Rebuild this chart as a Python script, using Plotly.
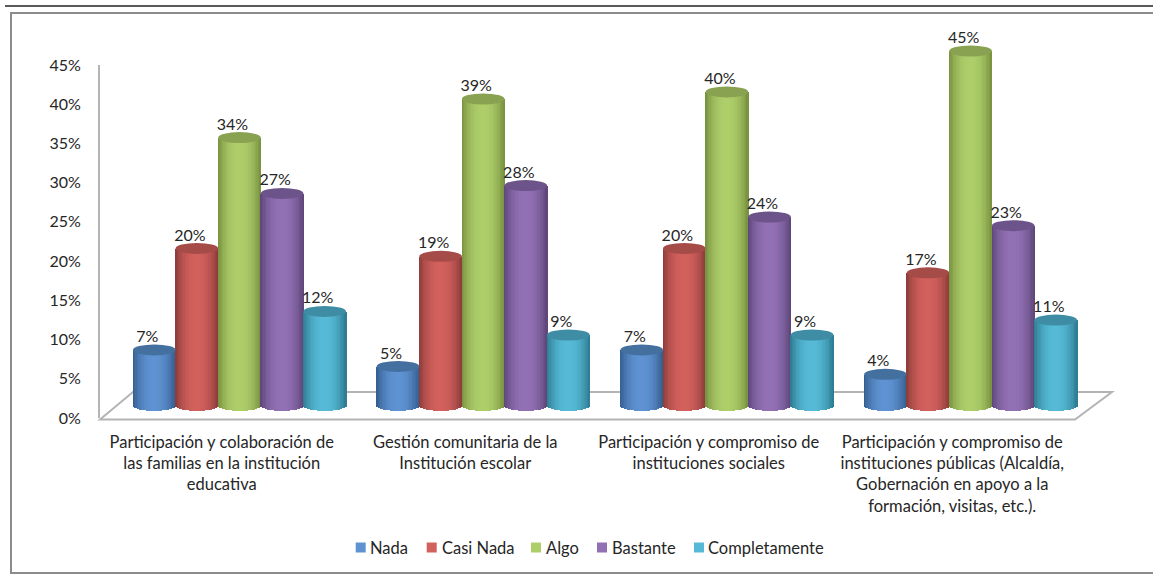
import math
import plotly.graph_objects as go

categories = [
    "Participación y colaboración de<br>las familias en la institución<br>educativa",
    "Gestión comunitaria de la<br>Institución escolar",
    "Participación y compromiso de<br>instituciones sociales",
    "Participación y compromiso de<br>instituciones públicas (Alcaldía,<br>Gobernación en apoyo a la<br>formación, visitas, etc.).",
]
series_names = ["Nada", "Casi Nada", "Algo", "Bastante", "Completamente"]
nada = [7.0, 4.9, 7.0, 3.9]
casi_nada = [19.9, 18.9, 19.9, 16.8]
algo = [34.0, 38.9, 39.8, 45.0]
bastante = [26.9, 27.9, 23.9, 22.8]
completamente = [11.9, 8.9, 8.9, 10.8]
labels = [
    ["7%", "5%", "7%", "4%"],
    ["20%", "19%", "20%", "17%"],
    ["34%", "39%", "40%", "45%"],
    ["27%", "28%", "24%", "23%"],
    ["12%", "9%", "9%", "11%"],
]
y_ticks = [0, 5, 10, 15, 20, 25, 30, 35, 40, 45]
values = [nada, casi_nada, algo, bastante, completamente]

W, H = 1153, 574
FONT = "Lato, Carlito, Calibri, sans-serif"
TEXT = "#262626"
center_col = ["#5E92D2", "#D2605C", "#AECE6A", "#9270B4", "#56BAD6"]
edge_col = ["#335C8C", "#8A3B39", "#76903E", "#5C4579", "#2D7A90"]
cap_col = ["#44709F", "#A54B48", "#89A251", "#6C5389", "#3F8DA4"]
legend_swatch_px = [355.7, 426.7, 531, 597, 694]
legend_text_px = [370, 441.7, 545.7, 611.7, 708]


def hex2rgb(h):
    return [int(h[i:i + 2], 16) for i in (1, 3, 5)]


def mix(a, b, t):
    ca, cb = hex2rgb(a), hex2rgb(b)
    return "rgb(%d,%d,%d)" % tuple(round(p + (q - p) * t) for p, q in zip(ca, cb))


def px_dom_x(a, b):
    return [a / W, b / W]


def px_dom_y(top, bottom):
    return [1 - bottom / H, 1 - top / H]


fig = go.Figure()

# main axes carry the ticks and category labels
fig.add_trace(go.Scatter(x=[0, 1, 2, 3], y=[None] * 4, xaxis="x", yaxis="y",
                         mode="markers", showlegend=False, hoverinfo="skip"))

BAR_W = 42.6 / 243.7
N_STRIP = 31
CAP = 0.7
LABEL_DX = -7 / 243.7
shapes = []
# floor, frame and rule first so they lie underneath
GRAY = "#B4B4B4"
shapes.append(dict(type="rect", xref="paper", yref="paper", layer="below",
                   x0=11 / W, x1=1170 / W, y0=1 - 573 / H, y1=1 - 13 / H,
                   line=dict(color="#8C8C8C", width=2), fillcolor="white"))
shapes.append(dict(type="path", xref="paper", yref="paper", layer="below",
                   path="M %f,%f L %f,%f L %f,%f L %f,%f Z" % (
                       100 / W, 1 - 419.5 / H, 133 / W, 1 - 392 / H,
                       1112 / W, 1 - 392 / H, 1075 / W, 1 - 419.5 / H),
                   line=dict(color=GRAY, width=2), fillcolor="white"))
shapes.append(dict(type="line", xref="paper", yref="paper", layer="below",
                   x0=5 / W, x1=1.01, y0=1 - 6 / H, y1=1 - 6 / H,
                   line=dict(color="#222222", width=1.5)))

for s, vals in enumerate(values):
    xs, ys, bases, widths, cols = [], [], [], [], []
    for g, v in enumerate(vals):
        cx = g + (s - 2) * BAR_W
        for k in range(N_STRIP):
            u = -1 + (2 * k + 1) / N_STRIP
            e = math.sqrt(max(0, 1 - u * u))
            xs.append(cx + u * BAR_W / 2)
            bases.append(-CAP * e)
            ys.append(v + CAP * e)
            widths.append(BAR_W / N_STRIP * 1.35)
            cols.append(mix(center_col[s], edge_col[s], abs(u) ** 2.2))
    fig.add_trace(go.Bar(x=xs, y=ys, base=bases, width=widths, xaxis="x2", yaxis="y2",
                         marker=dict(color=cols, line=dict(width=0)),
                         showlegend=False, hoverinfo="skip"))
    for g, v in enumerate(vals):
        cx = g + (s - 2) * BAR_W
        shapes.append(dict(type="circle", xref="x2", yref="y2",
                           x0=cx - BAR_W / 2, x1=cx + BAR_W / 2, y0=v - CAP, y1=v + CAP,
                           fillcolor=cap_col[s], line=dict(width=0), layer="above"))

for s, vals in enumerate(values):
    fig.add_trace(go.Scatter(
        x=[g + (s - 2) * BAR_W + LABEL_DX for g in range(4)], y=[v + CAP - 0.2 for v in vals],
        text=labels[s], mode="text", textposition="top center", xaxis="x2", yaxis="y2",
        textfont=dict(family=FONT, size=16, color=TEXT), showlegend=False, hoverinfo="skip"))

# legend row
annotations = []
for s, name in enumerate(series_names):
    shapes.append(dict(type="rect", xref="paper", yref="paper", layer="above",
                       x0=legend_swatch_px[s] / W, x1=(legend_swatch_px[s] + 10) / W,
                       y0=1 - 552.5 / H, y1=1 - 542.5 / H,
                       fillcolor=center_col[s], line=dict(width=0)))
    annotations.append(dict(xref="paper", yref="paper", x=legend_text_px[s] / W, y=1 - 547.5 / H,
                            xanchor="left", yanchor="middle", xshift=-2, text=name, showarrow=False,
                            font=dict(family=FONT, size=16.5, color=TEXT)))

PX_PER_UNIT = 354 / 45
fig.update_layout(
    width=W, height=H, margin=dict(l=0, r=0, t=0, b=0, autoexpand=False), autosize=False,
    paper_bgcolor="white", plot_bgcolor="rgba(0,0,0,0)", barmode="overlay", bargap=0,
    font=dict(family=FONT, color=TEXT), showlegend=False, shapes=shapes, annotations=annotations,
    xaxis=dict(domain=px_dom_x(100, 1074), range=[-0.5, 3.5], tickmode="array",
               tickvals=[0, 1, 2, 3], ticktext=categories, showgrid=False, zeroline=False,
               showline=False, ticks="", tickangle=0, anchor="y", ticklabelstandoff=12,
               automargin=False, tickfont=dict(family=FONT, size=16.5, color=TEXT)),
    yaxis=dict(domain=px_dom_y(65, 418), range=[0, 45], tickmode="array", tickvals=y_ticks,
               ticktext=[f"{t}%" for t in y_ticks], showgrid=False, zeroline=False,
               showline=True, linecolor=GRAY, linewidth=2, ticks="", anchor="x", automargin=False,
               ticklabelstandoff=14, tickfont=dict(family=FONT, size=16, color=TEXT)),
    xaxis2=dict(domain=px_dom_x(117.65, 1092.45), range=[-0.5, 3.5], visible=False, anchor="y2"),
    yaxis2=dict(domain=px_dom_y(405 - 50 * PX_PER_UNIT, 405 + 3 * PX_PER_UNIT), range=[-3, 50],
                visible=False, anchor="x2"),
)

fig.write_html("out.html", config={"displayModeBar": False},
               post_script="document.body.style.margin='0';")
